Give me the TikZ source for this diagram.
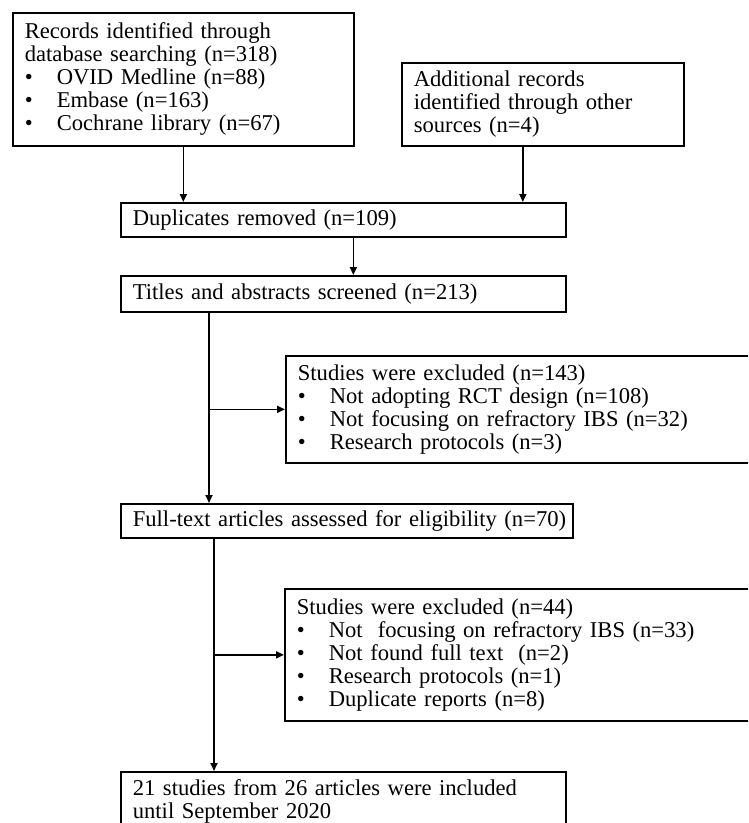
\documentclass[tikz,border=0pt]{standalone}
\usepackage{fontspec}
\setmainfont{Liberation Serif}
\usetikzlibrary{arrows.meta, positioning, calc}

\newcommand{\bitem}[1]{\makebox[32pt][l]{\textbullet}#1}

\begin{document}
\begin{tikzpicture}[
    x=1pt, y=-1pt,
    font=\fontsize{22.6}{23}\selectfont,
    pbox/.style n args={2}{
        rectangle, draw=black, line width=1.7pt,
        anchor=north west, align=left,
        text width=#1, minimum height=#2,
        inner xsep=12pt, inner ysep=2pt
    },
    harrow/.style={
        -{Triangle[length=8pt,width=7pt]}, line width=1.7pt
    },
]

\useasboundingbox (0,0) rectangle (748,823);
\clip (0,0) rectangle (748,823);

% ============================================================
% Identification
% ============================================================

\node[pbox={317pt}{133pt}] (rec) at (12,12) {%
    Records identified through\\
    database searching (n=318)\\
    \bitem{OVID Medline (n=88)}\\
    \bitem{Embase (n=163)}\\
    \bitem{Cochrane library (n=67)}};

\node[pbox={258pt}{83pt}] (other) at (401,62) {%
    Additional records\\
    identified through other\\
    sources (n=4)};

% ============================================================
% Screening
% ============================================================

\node[pbox={421pt}{34pt}] (dup) at (120,202) {Duplicates removed (n=109)};

\node[pbox={421pt}{36pt}] (title) at (120,275) {Titles and abstracts screened (n=213)};

\node[pbox={456pt}{107pt}] (excl1) at (285,355) {%
    Studies were excluded (n=143)\\
    \bitem{Not adopting RCT design (n=108)}\\
    \bitem{Not focusing on refractory IBS (n=32)}\\
    \bitem{Research protocols (n=3)}};

% ============================================================
% Eligibility and inclusion
% ============================================================

\node[pbox={428pt}{34pt}] (full) at (120,503) {\mbox{Full-text articles assessed for eligibility (n=70)}};

\node[pbox={456pt}{132pt}] (excl2) at (284,588) {%
    Studies were excluded (n=44)\\
    \bitem{Not\ \ focusing on refractory IBS (n=33)}\\
    \bitem{Not found full text\ \ (n=2)}\\
    \bitem{Research protocols (n=1)}\\
    \bitem{Duplicate reports (n=8)}};

\node[pbox={421pt}{60pt}] (incl) at (120,771) {%
    21 studies from 26 articles were included\\
    until September 2020};

% Arrows
\draw[harrow] (rec.south) -- (rec.south |- dup.north);
\draw[harrow] ([xshift=-20pt]other.south) -- ([xshift=-20pt]other.south |- dup.north);
\draw[harrow] ([xshift=10pt]dup.south) -- ([xshift=10pt]dup.south |- title.north);

\coordinate (split1) at ([xshift=89pt]title.south west);
\draw[harrow] (split1) -- (split1 |- full.north);
\draw[harrow] (split1 |- excl1.west) -- (excl1.west);

\coordinate (split2) at ([xshift=94pt]full.south west);
\draw[harrow] (split2) -- (split2 |- incl.north);
\draw[harrow] (split2 |- excl2.west) -- (excl2.west);

\end{tikzpicture}
\end{document}
